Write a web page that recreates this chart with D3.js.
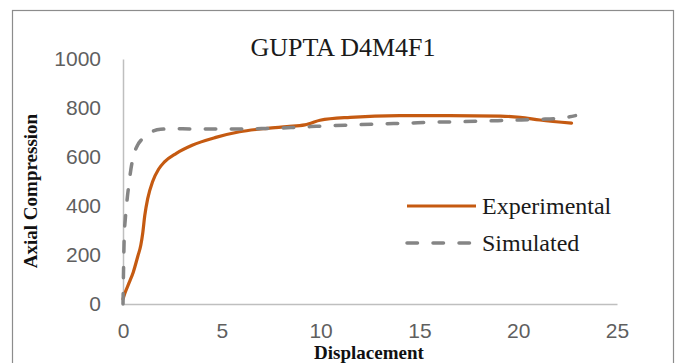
<!DOCTYPE html>
<html>
<head>
<meta charset="utf-8">
<script src="https://cdn.jsdelivr.net/npm/d3@7"></script>
<style>
  html, body { margin: 0; padding: 0; background: #fff; }
  svg { display: block; }
</style>
</head>
<body>
<svg id="chart" width="683" height="363"></svg>
<script>
// Load–displacement data for specimen GUPTA D4M4F1
const chartTitle = "GUPTA D4M4F1";
const xLabel = "Displacement";
const yLabel = "Axial Compression";
const seriesNames = ["Experimental", "Simulated"];

const xTicks = [0, 5, 10, 15, 20, 25];
const yTicks = [0, 200, 400, 600, 800, 1000];

const experimentalX = [0, 0.1, 0.3, 0.52, 0.75, 0.9, 1.0, 1.1, 1.25, 1.5, 1.8, 2.1, 2.7, 3.5, 4.7, 5.9, 7.3, 8.3, 9.2, 9.5, 9.97, 11.5, 14, 16.5, 19.1, 20.1, 21.1, 22.7];
const experimentalY = [20, 45, 85, 130, 195, 240, 290, 360, 430, 500, 550, 580, 615, 648, 680, 703, 717, 724, 731, 738, 750, 762, 769, 769, 767, 762, 751, 738];

const simulatedX = [0, 0.03, 0.06, 0.12, 0.2, 0.3, 0.4, 0.55, 0.75, 0.95, 1.2, 1.5, 1.9, 2.5, 5, 7, 8.5, 9.5, 10.3, 11.65, 13, 14.3, 15.7, 17.1, 18.4, 19.7, 21.2, 22.0, 22.6, 22.9];
const simulatedY = [0, 150, 270, 350, 420, 490, 550, 610, 650, 672, 692, 705, 713, 715, 714, 716, 720, 724, 727, 731, 735, 738, 742, 744, 747, 750, 754, 758, 764, 769];

const svg = d3.select("#chart");

// outer chart frame
svg.append("rect")
  .attr("x", 12.5).attr("y", 10.5)
  .attr("width", 661).attr("height", 400)
  .attr("fill", "#fff")
  .attr("stroke", "#8c8c8c").attr("stroke-width", 1.2);

const plot = { left: 123, right: 617, top: 59, bottom: 304 };

const x = d3.scaleLinear().domain([0, 25]).range([plot.left, plot.right]);
const y = d3.scaleLinear().domain([0, 1000]).range([plot.bottom, plot.top]);

// axes (lines + labels, no tick marks)
const xAxis = svg.append("g")
  .attr("transform", `translate(0,${plot.bottom})`)
  .call(d3.axisBottom(x).tickValues(xTicks).tickSize(0).tickPadding(19).tickFormat(d3.format("d")));
const yAxis = svg.append("g")
  .attr("transform", `translate(${plot.left},0)`)
  .call(d3.axisLeft(y).tickValues(yTicks).tickSize(0).tickPadding(22).tickFormat(d3.format("d")));

[xAxis, yAxis].forEach(g => {
  g.select(".domain").attr("stroke", "#bfbfbf").attr("stroke-width", 1.5);
  g.selectAll("text")
    .attr("fill", "#5f5f5f")
    .style("font-family", "'Liberation Sans', Arial, sans-serif")
    .style("font-size", "21px");
});
xAxis.selectAll("text").attr("dy", "0.71em");

// series lines
const line = d3.line()
  .x(d => x(d[0]))
  .y(d => y(d[1]))
  .curve(d3.curveMonotoneX);

const expData = experimentalX.map((v, i) => [v, experimentalY[i]]);
const simData = simulatedX.map((v, i) => [v, simulatedY[i]]);

svg.append("path")
  .datum(expData)
  .attr("d", line)
  .attr("fill", "none")
  .attr("stroke", "#C55A11")
  .attr("stroke-width", 3.2)
  .attr("stroke-linejoin", "round")
  .attr("stroke-linecap", "round");

svg.append("path")
  .datum(simData)
  .attr("d", line)
  .attr("fill", "none")
  .attr("stroke", "#858585")
  .attr("stroke-width", 3.5)
  .attr("stroke-dasharray", "10.5 15.5")
  .attr("stroke-linecap", "round");

// title
svg.append("text")
  .attr("x", 343).attr("y", 56)
  .attr("text-anchor", "middle")
  .style("font-family", "'Liberation Serif', 'Times New Roman', serif")
  .style("font-size", "26px")
  .attr("fill", "#1a1a1a")
  .text(chartTitle);

// axis titles
svg.append("text")
  .attr("x", 369).attr("y", 359)
  .attr("text-anchor", "middle")
  .style("font-family", "'Liberation Serif', 'Times New Roman', serif")
  .style("font-size", "19px")
  .style("font-weight", "bold")
  .attr("fill", "#111")
  .text(xLabel);

svg.append("text")
  .attr("transform", "translate(37,191) rotate(-90)")
  .attr("text-anchor", "middle")
  .style("font-family", "'Liberation Serif', 'Times New Roman', serif")
  .style("font-size", "19px")
  .style("font-weight", "bold")
  .attr("fill", "#111")
  .text(yLabel);

// legend
const legendRows = [
  { name: seriesNames[0], color: "#C55A11", dash: null, width: 3.2, y: 206 },
  { name: seriesNames[1], color: "#858585", dash: "10.5 15.5", width: 3.5, y: 243 }
];
const legend = svg.append("g");
legendRows.forEach(r => {
  legend.append("line")
    .attr("x1", 407).attr("x2", 476)
    .attr("y1", r.y).attr("y2", r.y)
    .attr("stroke", r.color)
    .attr("stroke-width", r.width)
    .attr("stroke-linecap", r.dash ? "round" : "butt")
    .attr("stroke-dasharray", r.dash);
  legend.append("text")
    .attr("x", 482).attr("y", r.y)
    .attr("dy", "0.35em")
    .style("font-family", "'Liberation Serif', 'Times New Roman', serif")
    .style("font-size", "24px")
    .attr("fill", "#1a1a1a")
    .text(r.name);
});
</script>
</body>
</html>
